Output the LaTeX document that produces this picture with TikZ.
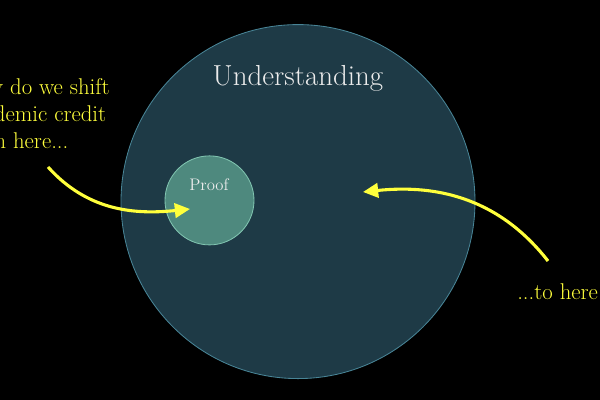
\documentclass[tikz,border=0pt]{standalone}
\usepackage{xcolor}
\usepackage{tikz}
\usetikzlibrary{arrows.meta,positioning}
\definecolor{wholefill}{RGB}{30,58,70}
\definecolor{wholeedge}{RGB}{72,132,150}
\definecolor{prooffill}{RGB}{78,137,126}
\definecolor{proofedge}{RGB}{128,196,176}
\definecolor{credityellow}{RGB}{255,255,60}
\definecolor{notewhite}{RGB}{236,236,236}
\tikzset{>={Triangle[length=3.8mm,width=3.6mm]}}
\tikzset{
  shiftarrow/.style={->,line width=2.2pt,draw=credityellow},
  remark/.style={text=credityellow,inner sep=0pt,font=\fontsize{16.2pt}{19.2pt}\selectfont}
}

\begin{document}
\begin{tikzpicture}[scale=1.0]
    \fill[black] (0,0) rectangle (15,10);
    \clip (0,0) rectangle (15,10);
    \useasboundingbox (0,0) rectangle (15,10);

    \node[draw=wholeedge,fill=wholefill,circle,line width=0.6pt,minimum size=8.85cm,inner sep=0pt] (U) at (7.45,4.96) {};
    \node[draw=proofedge,fill=prooffill,circle,line width=0.6pt,minimum size=2.225cm,inner sep=0pt] (P) at (5.2375,4.99) {};
    \node[text=notewhite,font=\fontsize{20.6pt}{24pt}\selectfont] (Ulabel) at (7.45,8.05) {Understanding};
    \node[text=notewhite,font=\fontsize{11.9pt}{14pt}\selectfont] (Plabel) at (5.225,5.375) {Proof};

    \node[remark,align=left,anchor=east] (from) at (2.75,7.15) {\hspace*{-0.11cm}Why do we shift\\academic credit\\from here...};
    \node[remark,anchor=west] (to) at (12.925,2.7) {...to here};

    \coordinate (fromtail) at (1.2,5.825);
    \coordinate (fromtip) at (4.75,4.775);
    \coordinate (totail) at (13.7,3.475);
    \coordinate (totip) at (9.075,5.2);
    \draw[shiftarrow] (fromtail) to[out=-48,in=186] (fromtip);
    \draw[shiftarrow] (totail) to[out=128,in=6] (totip);
\end{tikzpicture}
\end{document}
